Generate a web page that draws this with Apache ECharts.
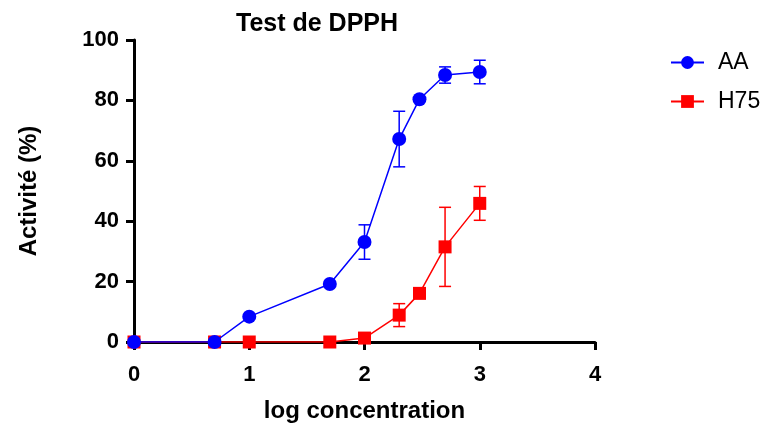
<!DOCTYPE html>
<html>
<head>
<meta charset="utf-8">
<script src="https://cdn.jsdelivr.net/npm/echarts@6/dist/echarts.min.js"></script>
<style>
  html, body { margin: 0; padding: 0; background: #fff; }
  #chart-container { width: 761px; height: 425px; }
</style>
</head>
<body>
<div id="chart-container"></div>
<script>
// log concentration (log of 1, 5, 10, 50, 100, 200, 300, 500, 1000)
const logConc = [0, 0.699, 1, 1.699, 2, 2.301, 2.477, 2.699, 3]
const aaMean = [0, 0, 8.4, 19.2, 33.1, 67.2, 80.4, 88.4, 89.4]
const aaSd = [0, 0, 0, 0, 5.7, 9.2, 0, 2.7, 3.9]
const h75Mean = [0, 0, 0, 0, 1.3, 8.9, 16.1, 31.5, 45.9]
const h75Sd = [0, 0, 0, 0, 0, 3.8, 0, 13.1, 5.6]
const xTicks = [0, 1, 2, 3, 4]
const yTicks = [0, 20, 40, 60, 80, 100]

const FONT = '"Liberation Sans", Arial, sans-serif'

const pairs = (xs, ys) => xs.map((x, i) => [x, ys[i]])
const errData = (xs, ys, sd) => xs.map((x, i) => [x, ys[i] - sd[i], ys[i] + sd[i]]).filter((d, i) => sd[i] > 0)

const errSeries = (name, color, data) => ({
    name: name,
    type: 'custom',
    z: 3,
    silent: true,
    data: data,
    renderItem: (params, api) => {
        const x = api.value(0)
        const top = api.coord([x, api.value(2)])
        const bot = api.coord([x, api.value(1)])
        const w = 6
        const style = { stroke: color, lineWidth: 1.5 }
        return {
            type: 'group',
            children: [
                { type: 'line', shape: { x1: top[0], y1: top[1], x2: bot[0], y2: bot[1] }, style },
                { type: 'line', shape: { x1: top[0] - w, y1: top[1], x2: top[0] + w, y2: top[1] }, style },
                { type: 'line', shape: { x1: bot[0] - w, y1: bot[1], x2: bot[0] + w, y2: bot[1] }, style }
            ]
        }
    },
    encode: { x: 0, y: [1, 2] }
})

const myChart = echarts.init(document.getElementById('chart-container'))
const option = {
    animation: false,
    title: {
        text: 'Test de DPPH',
        left: 312,
        textAlign: 'center',
        top: 7,
        textStyle: { fontFamily: FONT, fontWeight: 'bold', fontSize: 25, color: '#000' }
    },
    grid: { left: 134, right: 166, top: 40, bottom: 83, outerBoundsMode: 'none' },
    legend: {
        orient: 'vertical',
        left: 665,
        top: 46,
        itemWidth: 33,
        itemHeight: 16,
        itemGap: 16,
        data: ['AA', 'H75'],
        textStyle: { fontFamily: FONT, fontSize: 23, color: '#000', padding: [0, 0, 0, 9] }
    },
    xAxis: {
        type: 'value',
        min: xTicks[0],
        max: xTicks[xTicks.length - 1],
        interval: 1,
        name: 'log concentration',
        nameLocation: 'middle',
        nameGap: 57,
        nameTextStyle: { fontFamily: FONT, fontWeight: 'bold', fontSize: 24, color: '#000' },
        axisLine: { onZero: false, lineStyle: { color: '#000', width: 3 } },
        axisTick: { length: 8, lineStyle: { color: '#000', width: 3 } },
        axisLabel: { margin: 22, fontFamily: FONT, fontWeight: 'bold', fontSize: 22, color: '#000' },
        splitLine: { show: false }
    },
    yAxis: {
        type: 'value',
        min: yTicks[0],
        max: yTicks[yTicks.length - 1],
        interval: 20,
        name: 'Activité (%)',
        nameLocation: 'middle',
        nameGap: 93,
        nameTextStyle: { fontFamily: FONT, fontWeight: 'bold', fontSize: 24, color: '#000' },
        axisLine: { show: true, onZero: false, lineStyle: { color: '#000', width: 3 } },
        axisTick: { show: true, length: 8, lineStyle: { color: '#000', width: 3 } },
        axisLabel: { margin: 15, fontFamily: FONT, fontWeight: 'bold', fontSize: 22, color: '#000' },
        splitLine: { show: false }
    },
    series: [
        {
            name: 'AA',
            type: 'line',
            data: pairs(logConc, aaMean),
            symbol: 'circle',
            symbolSize: 14,
            z: 5,
            itemStyle: { color: '#0000ff' },
            lineStyle: { color: '#0000ff', width: 1.5 }
        },
        {
            name: 'H75',
            type: 'line',
            data: pairs(logConc, h75Mean),
            symbol: 'rect',
            symbolSize: 13,
            z: 4,
            itemStyle: { color: '#ff0000' },
            lineStyle: { color: '#ff0000', width: 1.5 }
        },
        errSeries('AA error', '#0000ff', errData(logConc, aaMean, aaSd)),
        errSeries('H75 error', '#ff0000', errData(logConc, h75Mean, h75Sd))
    ]
}
option && myChart.setOption(option)
</script>
</body>
</html>
